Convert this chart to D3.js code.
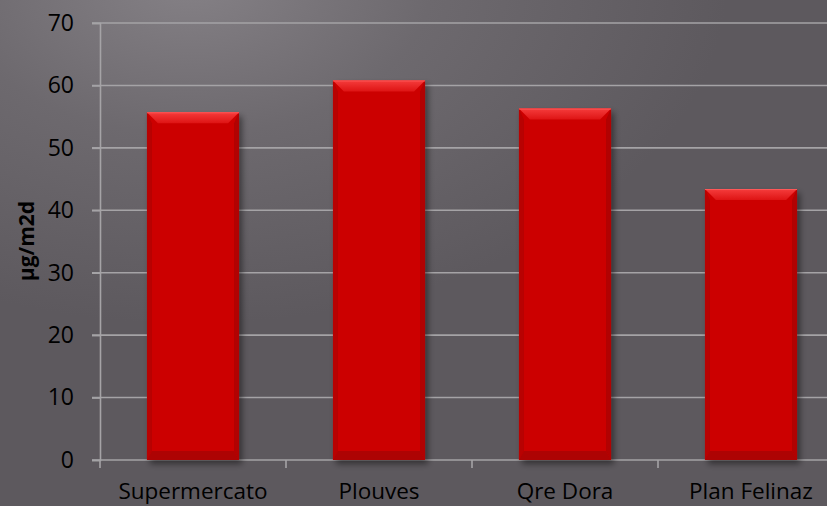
<!DOCTYPE html>
<html>
<head>
<meta charset="utf-8">
<script src="https://cdn.jsdelivr.net/npm/d3@7/dist/d3.min.js"></script>
<style>
  html, body { margin: 0; padding: 0; background: #5e5a5f; }
  svg { display: block; }
</style>
</head>
<body>
<script>
// Deposition by site
const categories = ["Supermercato", "Plouves", "Qre Dora", "Plan Felinaz"];
const values = [55.7, 60.8, 56.3, 43.4];
const yTicks = [0, 10, 20, 30, 40, 50, 60, 70];
const yTitle = "µg/m2d";

const W = 827, H = 506;
const svg = d3.select("body").append("svg").attr("width", W).attr("height", H);
const defs = svg.append("defs");

// background: dark grey with a soft light patch at the top left
const bg = defs.append("radialGradient").attr("id", "bgGlow")
  .attr("gradientUnits", "userSpaceOnUse")
  .attr("cx", 190).attr("cy", -20).attr("r", 430)
  .attr("gradientTransform", "translate(190,-20) scale(1.25,0.8) translate(-190,20)");
bg.append("stop").attr("offset", 0).attr("stop-color", "#858186");
bg.append("stop").attr("offset", 0.45).attr("stop-color", "#6d696e");
bg.append("stop").attr("offset", 1).attr("stop-color", "#5d595e");
svg.append("rect").attr("width", W).attr("height", H).attr("fill", "url(#bgGlow)");

const shadow = defs.append("filter").attr("id", "barShadow")
  .attr("x", "-20%").attr("y", "-10%").attr("width", "140%").attr("height", "130%");
shadow.append("feDropShadow").attr("dx", 3).attr("dy", 4).attr("stdDeviation", 3)
  .attr("flood-color", "#000").attr("flood-opacity", 0.45);

const topGrad = defs.append("linearGradient").attr("id", "bevelTop")
  .attr("x1", 0).attr("y1", 0).attr("x2", 0).attr("y2", 1);
topGrad.append("stop").attr("offset", 0).attr("stop-color", "#f53c3c");
topGrad.append("stop").attr("offset", 1).attr("stop-color", "#de1414");

const x = d3.scaleBand().domain(categories).range([100, 844]).padding(0);
const y = d3.scaleLinear().domain([0, 70]).range([460, 23]);
const barW = x.bandwidth() * 0.495;

// gridlines
svg.append("g").selectAll("line").data(yTicks.filter(d => d > 0)).join("line")
  .attr("x1", 92).attr("x2", W)
  .attr("y1", d => y(d)).attr("y2", d => y(d))
  .attr("stroke", "#a5a3a6").attr("stroke-width", 1.6);

// axes
const yAxis = d3.axisLeft(y).tickValues(yTicks).tickSize(8).tickPadding(18);
const gy = svg.append("g").attr("transform", "translate(100,0)").call(yAxis);
gy.select(".domain").attr("stroke", "#a5a3a6").attr("stroke-width", 1.6);
gy.selectAll(".tick line").attr("stroke", "#a5a3a6").attr("stroke-width", 1.6);
gy.selectAll(".tick text").attr("fill", "#000")
  .style("font-family", "'Open Sans', sans-serif").style("font-size", "23px");

const xBase = svg.append("g");
xBase.append("line").attr("x1", 92).attr("x2", W).attr("y1", y(0)).attr("y2", y(0))
  .attr("stroke", "#a5a3a6").attr("stroke-width", 1.6);
xBase.selectAll("line.tk").data(categories.map(c => x(c)).concat([x(categories[3]) + x.step()]))
  .join("line").attr("class", "tk")
  .attr("x1", d => d).attr("x2", d => d).attr("y1", y(0)).attr("y2", y(0) + 8)
  .attr("stroke", "#a5a3a6").attr("stroke-width", 1.6);

// bars with bevelled edges
const bars = svg.append("g").selectAll("g").data(values).join("g");
bars.each(function(v, i) {
  const g = d3.select(this);
  const x0 = x(categories[i]) + (x.bandwidth() - barW) / 2;
  const x1 = x0 + barW;
  const y0 = y(v), y1 = y(0);
  const b = 11, s = 5, bb = 9;
  g.append("rect").attr("x", x0).attr("y", y0).attr("width", barW).attr("height", y1 - y0)
    .attr("fill", "#cc0303").attr("filter", "url(#barShadow)");
  // left and right edges
  g.append("polygon").attr("points", [[x0, y0], [x0 + s, y0 + b], [x0 + s, y1 - bb], [x0, y1]].join(" "))
    .attr("fill", "#b80202");
  g.append("polygon").attr("points", [[x1, y0], [x1 - s, y0 + b], [x1 - s, y1 - bb], [x1, y1]].join(" "))
    .attr("fill", "#b10202");
  // bottom edge
  g.append("polygon").attr("points", [[x0, y1], [x0 + s, y1 - bb], [x1 - s, y1 - bb], [x1, y1]].join(" "))
    .attr("fill", "#ad0303");
  // top highlight
  g.append("polygon").attr("points", [[x0, y0], [x1, y0], [x1 - s - 6, y0 + b], [x0 + s + 6, y0 + b]].join(" "))
    .attr("fill", "url(#bevelTop)");
  g.append("line").attr("x1", x0).attr("x2", x1).attr("y1", y0 + 0.5).attr("y2", y0 + 0.5)
    .attr("stroke", "#ff5a5a").attr("stroke-width", 1);
});

// category labels
svg.append("g").selectAll("text").data(categories).join("text")
  .attr("x", d => x(d) + x.bandwidth() / 2).attr("y", 499)
  .attr("text-anchor", "middle").attr("fill", "#000")
  .style("font-family", "'Open Sans', sans-serif").style("font-size", "22.5px")
  .text(d => d);

// y title
svg.append("text").attr("transform", "translate(34,241) rotate(-90)")
  .attr("text-anchor", "middle").attr("fill", "#000")
  .style("font-family", "'Open Sans', sans-serif").style("font-size", "21px").style("font-weight", "bold")
  .text(yTitle);
</script>
</body>
</html>
